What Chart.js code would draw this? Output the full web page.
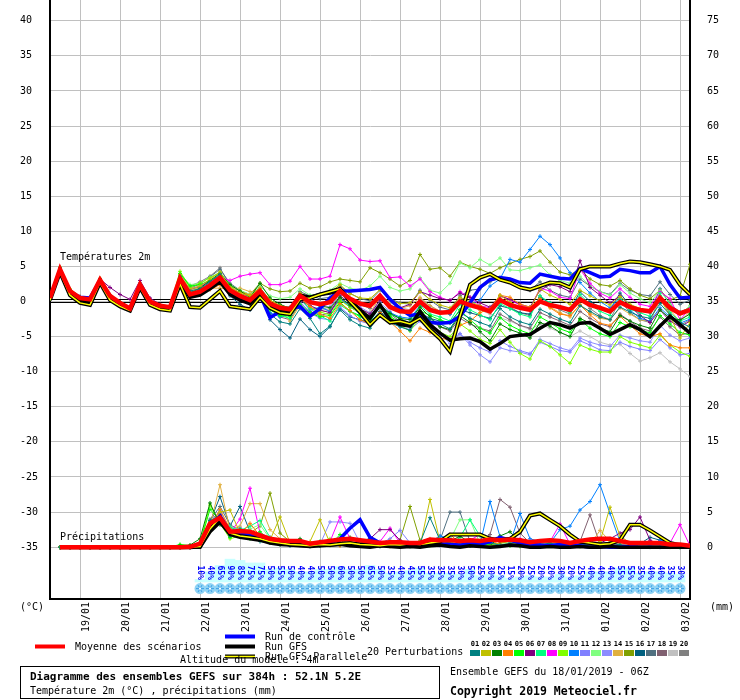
<!DOCTYPE html>
<html>
<head>
<meta charset="utf-8">
<script src="https://cdn.jsdelivr.net/npm/chart.js@4.4.1/dist/chart.umd.min.js"></script>
<style>
  body { margin: 0; background: #fff; }
  canvas { display: block; }
</style>
</head>
<body>
<canvas id="gefs" width="740" height="700"></canvas>
<script>
// forecast hours, every 6h from 18/01 06Z
const hours = [0,6,12,18,24,30,36,42,48,54,60,66,72,78,84,90,96,102,108,114,120,126,132,138,144,150,156,162,168,174,180,186,192,198,204,210,216,222,228,234,240,246,252,258,264,270,276,282,288,294,300,306,312,318,324,330,336,342,348,354,360,366,372,378,384];
const dayTicks = [18,42,66,90,114,138,162,186,210,234,258,282,306,330,354,378];
const dateLabels = ['19/01','20/01','21/01','22/01','23/01','24/01','25/01','26/01','27/01','28/01','29/01','30/01','31/01','01/02','02/02','03/02'];
const tempTicks = [-35,-30,-25,-20,-15,-10,-5,0,5,10,15,20,25,30,35,40];
const rainTicks = [0,5,10,15,20,25,30,35,40,45,50,55,60,65,70,75];

// temperature 2m (°C)
const tempMean = [0.5,4.6,1.5,0.5,0.3,3.1,0.8,-0.2,-1.0,2.4,0.0,-0.6,-0.8, 3.3,1.0,1.4,2.3,3.4,1.6,0.8,0.2,1.5,-0.3,-0.9,-1.1, 0.8,-0.1,-0.4,-0.1,1.5,0.4,-0.3,-0.6,0.8,-0.8,-1.4,-1.5, 0.0,-1.2,-1.6,-1.5,0.0,-0.5,-0.9,-1.4,0.2,-0.5,-0.9,-1.2, 0.0,-0.5,-0.8,-1.2,0.3,-0.5,-0.9,-1.4,-0.1,-0.8,-1.2,-1.4,0.5,-0.9,-1.7,-1.2];
const tempControl = [0.5,4.5,1.4,0.6,0.5,3.0,0.7,-0.3,-1.1,2.3,-0.1,-0.7,-0.9, 3.0,0.9,1.2,2.0,3.1,1.2,0.5,-0.2,1.0,-2.3,-1.4,-1.1, -0.7,-2.1,-1.0,0.5,1.5,1.5,1.6,1.7,2.0,0.3,-1.0,-2.0, -1.8,-3.0,-3.1,-3.0,-2.1,-0.2,2.0,3.1,3.4,3.2,2.7,2.6, 3.9,3.6,3.3,3.2,4.7,4.1,3.5,3.6,4.6,4.4,4.1,4.1,5.0,2.4,0.5,0.6];
const tempGfs = [0.4,4.4,1.2,0.1,-0.2,2.9,0.5,-0.5,-1.2,2.2,-0.2,-0.9,-1.1, 2.9,0.6,0.9,1.8,2.8,1.0,0.2,-0.3,1.2,-0.6,-1.2,-1.3, 0.9,0.6,1.0,1.2,1.6,0.3,-1.2,-2.4,-0.5,-2.6,-3.3,-3.5, -1.4,-3.3,-4.5,-5.5,-5.3,-5.2,-5.7,-6.8,-6.0,-5.0,-4.8,-4.7, -3.8,-3.0,-3.3,-3.8,-3.1,-3.0,-3.8,-4.7,-4.0,-3.3,-4.0,-5.0,-3.5,-2.1,-3.3,-4.5];
const tempPara = [0.2,4.2,0.9,-0.2,-0.5,2.7,0.2,-0.7,-1.3,2.0,-0.5,-1.1,-1.3, 2.5,-0.8,-0.9,0.3,1.5,-0.7,-0.9,-1.1,0.6,-0.9,-1.6,-1.8, 0.3,0.5,1.0,1.4,1.8,0.0,-1.5,-3.3,-1.9,-3.0,-2.8,-3.2, -2.4,-4.0,-5.3,-7.1,-2.1,2.4,3.4,3.9,3.1,2.7,2.0,1.7, 2.2,2.7,2.6,2.0,4.6,5.0,5.0,5.0,5.4,5.7,5.6,5.3,5.0,4.5,2.4,1.0];

const t01 = [0.6,4.8,1.7,0.4,0.2,3.2,0.9,-0.1,-1.1,2.3,-0.1,-0.7,-0.9, 3.6,1.5,1.8,2.8,3.9,1.4,0.2,-0.3,1.1,-1.8,-2.9,-3.2, -1.0,-2.4,-4.6,-3.5,-1.2,-2.6,-3.4,-3.8,-2.0,-3.0,-3.6,-4.1, -1.8,-2.5,-3.2,-3.9,-1.6,-2.4,-3.0,-3.5,-1.0,-2.2,-2.9,-3.3, -1.1,-1.8,-2.5,-3.0,-0.6,-1.4,-2.2,-2.6,-0.8,-1.5,-2.1,-2.4,-0.3,-1.9,-3.0,-3.6];
const t02 = [0.4,4.5,1.4,0.6,0.4,3.0,0.9,-0.2,-0.9,2.5,0.1,-0.5,-0.7, 3.8,1.8,2.2,3.2,4.2,2.0,1.2,0.8,1.8,0.2,-0.6,-0.9, 1.2,0.6,0.9,1.3,2.4,1.1,0.5,0.4,1.7,0.2,-0.3,-0.2, 1.4,0.3,-0.5,-0.9,0.6,0.0,-0.6,-1.2,0.9,-0.1,-0.8,-1.1, 1.8,0.9,0.3,-0.4,1.6,0.8,0.1,-0.5,0.7,-0.4,-1.0,-1.3,0.4,-2.0,-5.2,-3.0];
const t03 = [0.5,4.7,1.6,0.5,0.3,3.2,0.8,-0.3,-1.0,2.4,0.0,-0.6,-0.8, 3.1,1.2,1.9,3.0,4.0,2.4,1.5,0.6,2.6,0.5,-0.4,-1.0, 0.9,0.0,-0.6,-0.9,0.6,-0.5,-1.5,-2.2,-0.4,-1.7,-2.4,-2.6, -0.8,-2.2,-3.6,-4.0,-2.0,-3.0,-4.3,-5.6,-3.2,-4.0,-4.5,-5.2, -3.0,-3.5,-4.4,-5.0,-2.4,-3.1,-3.8,-4.3,-2.0,-2.8,-3.4,-3.8,-1.2,-2.4,-2.6,-1.8];
const t04 = [0.5,4.6,1.5,0.6,0.4,3.1,0.9,-0.1,-0.9,2.4,-0.1,-0.7,-0.9, 3.0,0.8,1.3,1.7,2.4,1.6,1.4,0.9,1.9,0.2,-0.6,-1.2, 0.5,-0.7,-1.8,-2.4,-0.3,-1.3,-2.6,-3.2,-1.6,-2.9,-4.2,-5.6, -3.8,-4.4,-5.2,-5.5,-3.4,-2.8,-1.6,-1.0,0.9,0.6,-0.4,-0.8, 0.4,-0.9,-1.8,-2.0,-0.5,-1.9,-3.1,-3.4,-2.1,-3.4,-4.6,-5.0,-4.6,-6.2,-6.6,-6.6];
const t05 = [0.6,4.7,1.6,0.5,0.3,3.2,0.7,-0.3,-1.1,2.3,-0.1,-0.7,-0.9, 4.0,2.2,2.4,3.0,3.6,1.5,0.6,-0.2,0.8,-1.2,-2.0,-2.1, -0.4,-1.6,-2.2,-2.0,-0.1,-1.4,-2.0,-2.6,-0.8,-2.1,-3.0,-3.4, -1.3,-2.0,-2.6,-3.1,-1.2,-2.6,-3.8,-4.5,-2.3,-3.4,-4.1,-4.6, -2.2,-3.0,-3.9,-4.4,-2.6,-3.8,-4.6,-5.0,-3.0,-3.6,-4.0,-4.5,-2.0,-3.2,-4.4,-4.8];
const t06 = [0.5,4.6,1.6,0.7,0.5,3.2,2.0,1.0,0.3,3.0,0.5,-0.4,-0.9, 2.8,0.9,1.2,2.0,3.0,1.2,0.4,-0.3,1.2,-0.8,-1.5,-1.8, 0.2,-0.6,-1.2,-1.6,0.8,-0.2,-1.0,-1.8,0.2,-0.6,-0.9,-0.4, 1.4,0.9,0.4,0.2,1.2,0.6,-0.2,-0.8,0.8,0.3,-0.4,-0.8, 1.6,2.4,2.1,1.4,5.8,2.0,0.9,-0.2,0.8,-0.6,-2.0,-3.0,-1.2,-2.8,-3.6,-2.8];
const t07 = [0.4,4.6,1.5,0.5,0.2,3.0,0.8,-0.2,-1.0,2.4,0.0,-0.6,-0.8, 3.5,1.3,1.5,2.5,3.6,1.8,0.5,0.0,1.6,-0.9,-2.0,-2.4, 0.3,-1.0,-2.0,-2.8,-0.5,-1.4,-2.2,-2.9,-0.7,-1.8,-2.4,-3.1, -0.6,-1.8,-2.2,-2.8,-0.4,-1.2,-1.9,-2.6,-0.3,-1.0,-1.8,-2.2, 0.8,-0.2,-0.8,-1.6,1.0,-0.4,-1.4,-2.0,0.6,-1.1,-1.6,-2.1,1.2,-1.6,-2.8,-2.2];
const t08 = [0.5,4.6,1.5,0.5,0.3,3.1,0.8,-0.2,-1.0,2.4,0.0,-0.6,-0.8, 3.4,1.8,2.2,2.9,3.5,3.0,3.6,3.9,4.1,2.4,2.4,2.9, 5.0,3.2,3.2,3.6,8.1,7.5,5.9,5.7,5.8,3.4,3.5,2.2, 3.2,1.4,0.6,0.1,1.4,0.6,-0.6,-0.9,0.8,0.2,-0.5,-1.0, 1.9,1.5,0.6,0.4,4.6,2.6,1.2,0.5,1.8,0.6,-0.4,-0.7,1.4,0.4,-2.6,-1.0];
const t09 = [0.6,4.9,1.8,0.7,0.4,3.3,0.9,-0.1,-0.9,2.6,0.2,-0.5,-0.6, 4.3,2.0,2.6,3.4,4.1,2.2,1.0,0.3,1.7,-0.4,-1.2,-1.6, 0.5,-0.8,-1.5,-1.9,0.2,-0.8,-1.6,-2.4,-0.9,-2.2,-3.4,-4.2, -2.4,-3.6,-4.4,-5.0,-3.2,-4.2,-5.4,-6.0,-4.0,-5.8,-7.4,-8.2, -5.6,-6.4,-7.6,-8.8,-6.2,-6.8,-7.2,-7.2,-5.0,-5.8,-6.2,-6.6,-4.8,-6.2,-7.2,-7.8];
const t10 = [0.5,4.5,1.4,0.4,0.2,3.0,0.7,-0.3,-1.1,2.3,-0.1,-0.7,-0.9, 3.2,1.1,1.6,2.6,3.2,1.5,0.7,0.0,1.0,-1.6,-2.2,-1.8, 0.4,-1.2,-0.8,-1.4,0.4,-0.6,-1.8,-2.0,-0.6,-1.6,-2.2,-2.4, -0.6,-1.0,-1.4,-1.8,-0.2,-0.4,0.2,2.2,3.2,6.0,5.6,7.4, 9.3,8.1,6.2,4.1,2.7,1.2,0.0,-0.9,0.6,-1.2,-2.4,-2.8,-0.9,-2.2,-3.1,-2.5];
const t11 = [0.5,4.6,1.5,0.5,0.2,3.0,0.8,-0.2,-1.0,2.4,0.0,-0.6,-0.8, 3.3,1.3,1.7,2.8,3.8,2.0,1.0,0.4,1.4,-0.6,-1.6,-2.0, 0.0,-1.6,-2.4,-2.6,-0.8,-2.0,-2.8,-3.2,-1.8,-2.8,-3.6,-4.0, -2.8,-4.0,-4.8,-5.4,-4.6,-5.8,-6.6,-7.2,-5.6,-6.4,-7.0,-7.4, -5.8,-6.4,-7.0,-7.2,-5.6,-6.2,-6.9,-7.0,-5.8,-6.4,-6.8,-7.0,-5.4,-6.6,-7.6,-7.4];
const t12 = [0.6,4.7,1.6,0.5,0.3,3.2,0.9,-0.1,-0.9,2.5,0.1,-0.5,-0.7, 4.0,2.4,2.6,3.4,4.2,2.4,1.6,1.0,2.2,0.8,0.4,0.6, 1.8,0.9,1.0,1.6,2.6,1.9,1.6,2.2,3.6,2.0,1.5,1.8, 3.4,1.6,1.2,2.6,5.5,4.8,6.0,5.2,6.2,4.5,4.4,4.8, 5.2,3.8,3.0,2.6,3.6,2.2,1.4,0.9,2.4,1.2,0.4,-0.2,1.6,-0.4,-1.8,-0.6];
const t13 = [0.5,4.6,1.5,0.5,0.2,3.1,0.7,-0.3,-1.1,2.3,-0.1,-0.7,-0.9, 3.0,0.9,1.4,2.4,3.2,1.6,0.8,0.2,1.8,-0.4,-1.0,-1.4, 1.0,0.4,-0.4,-0.8,1.2,0.2,-0.8,-1.6,-0.2,-1.4,-2.6,-3.6, -2.0,-3.4,-4.6,-6.0,-4.6,-6.2,-7.6,-8.6,-6.6,-7.0,-7.2,-7.6, -5.4,-6.0,-6.6,-7.0,-5.2,-5.8,-6.2,-6.4,-4.8,-5.2,-5.6,-5.8,-3.4,-4.8,-5.6,-5.2];
const t14 = [0.4,4.5,1.4,0.4,0.2,3.0,0.8,-0.2,-1.0,2.3,-0.1,-0.7,-0.9, 3.1,1.4,2.0,1.9,1.9,1.8,1.9,1.4,1.6,-0.2,-1.2,-2.8, -0.5,-2.2,-1.6,-1.2,0.4,-0.5,-1.2,-1.6,0.6,-0.5,-1.0,-0.6, 0.6,-0.6,-1.4,-1.8,0.2,-0.6,-1.2,-1.6,0.4,-0.2,-0.9,-1.2, 0.2,-0.8,-1.6,-2.2,-0.4,-1.6,-2.4,-2.6,-0.9,-1.8,-2.6,-2.8,0.2,-1.2,-2.9,-1.4];
const t15 = [0.5,4.6,1.5,0.5,0.3,3.1,0.8,-0.2,-1.0,2.4,0.0,-0.6,-0.8, 3.6,1.7,2.1,2.9,3.7,2.2,1.5,1.0,2.6,1.8,1.4,1.5, 2.6,1.9,2.1,2.8,3.2,3.0,2.8,4.8,4.1,3.2,2.2,3.0, 6.7,4.6,4.8,3.6,5.6,5.0,4.6,4.0,4.8,5.4,6.0,6.4, 7.2,5.6,4.2,3.8,4.6,3.2,2.4,2.2,3.0,1.8,0.9,0.4,1.6,0.2,0.8,5.3];
const t16 = [0.6,4.8,1.6,0.4,0.2,3.1,0.8,-0.2,-1.0,2.4,0.0,-0.7,-0.9, 3.0,0.9,1.4,2.2,3.2,0.8,-0.4,-1.2,1.0,-2.6,-4.0,-5.2, -2.5,-4.0,-5.0,-3.6,-1.0,-2.2,-2.6,-3.0,-1.4,-2.6,-3.4,-3.6, -1.6,-2.4,-2.8,-3.0,-1.2,-1.6,-2.0,-2.4,-0.6,-1.0,-1.6,-1.8, 0.6,-0.2,-0.8,-1.2,1.4,0.0,-0.8,-1.2,1.2,-0.6,-1.2,-1.6,1.8,-0.4,-1.5,-0.9];
const t17 = [0.5,4.7,1.4,0.4,0.2,3.0,0.7,-0.3,-1.1,2.3,-0.1,-0.7,-0.9, 3.5,1.9,2.5,3.5,4.6,2.6,1.6,0.8,2.0,0.2,-0.6,-0.8, 1.4,0.8,0.4,0.6,2.2,1.2,0.4,0.1,1.6,0.4,-0.2,-0.4, 1.6,0.2,-0.8,-1.2,0.8,1.6,1.8,2.8,3.4,2.8,2.2,1.6, 2.8,1.6,0.9,0.6,3.2,2.2,1.4,1.0,2.6,1.6,1.0,0.8,2.8,1.0,-0.4,0.2];
const t18 = [0.4,4.5,1.4,0.5,0.3,3.0,0.8,-0.2,-1.0,2.4,0.0,-0.6,-0.8, 3.2,1.0,1.5,2.6,3.8,1.6,0.6,0.0,1.4,-1.0,-2.2,-2.6, -0.2,-1.4,-2.0,-1.6,0.4,-0.8,-1.6,-2.4,-0.8,-1.8,-2.8,-3.4, -1.6,-2.8,-3.6,-4.2,-2.4,-3.2,-3.8,-4.2,-1.8,-2.6,-3.4,-3.8, -1.6,-2.2,-2.8,-3.4,-1.4,-2.4,-3.2,-3.6,-1.8,-2.8,-3.8,-4.2,-2.2,-3.6,-4.8,-4.4];
const t19 = [0.5,4.6,1.5,0.5,0.3,3.1,0.8,-0.2,-1.0,2.4,0.0,-0.6,-0.8, 3.4,1.6,2.0,2.9,4.2,2.0,1.0,0.2,1.2,-0.5,-1.0,-1.4, 0.6,-0.6,-1.2,-1.0,1.0,0.2,-0.4,-0.6,1.0,-0.2,-0.8,-1.2, 0.4,-0.8,-1.4,-1.6,0.0,-0.6,-1.2,-1.8,-2.3,-2.8,-3.4,-4.0, -3.2,-3.8,-4.4,-5.0,-4.2,-5.0,-5.8,-6.2,-6.1,-7.4,-8.5,-8.0,-7.3,-8.6,-9.6,-10.7];
const t20 = [0.6,4.8,1.6,0.6,0.4,3.2,0.9,-0.1,-0.9,2.5,0.1,-0.5,-0.7, 3.8,2.2,2.8,3.6,4.8,2.2,1.2,0.6,1.8,-0.2,-0.9,-1.2, 1.2,0.2,-0.6,-1.4,1.4,0.4,-0.4,-1.0,0.9,-0.6,-1.4,-1.8, 0.4,-0.6,-1.4,-1.8,0.6,-0.4,-1.2,-1.6,0.5,-0.8,-1.6,-2.0, 0.8,-0.4,-1.2,-1.8,0.6,-1.0,-2.0,-2.6,0.2,-1.6,-2.6,-3.0,0.8,-1.8,-3.4,-2.6];

// precipitation per 6h (mm)
const rainMean = [null,0,0,0,0,0,0,0,0,0,0,0,0, 0.0,0.05,0.5,3.4, 4.2,2.2,2.3,2.2, 1.7,1.2,1.0,0.9, 0.9,0.5,0.7,0.9, 1.1,1.2,1.0,0.8, 0.6,0.7,0.7,0.6, 0.6,1.1,1.0,1.0, 0.9,1.0,0.9,1.1, 1.0,1.1,1.0,0.7, 0.9,1.0,0.9,0.6, 0.9,1.1,1.2,1.2, 0.9,0.6,0.6,0.6, 0.6,0.4,0.4,0.2];
const rainControl = [null,0,0,0,0,0,0,0,0,0,0,0,0, 0,0,0.1,3.0, 4.4,2.2,2.0,1.8, 1.4,0.9,0.6,0.4, 0.5,0.3,0.6,0.6, 1.2,2.7,3.9,1.4, 0.6,0.4,0.3,0.5, 0.2,0.3,0.5,0.4, 0.3,0.6,0.4,0.8, 1.4,1.0,0.6,0.4, 0.3,0.2,0.4,0.3, 0.2,0.0,0.1,0.0, 0.0,0.1,0.0,0.0, 0.0,0.0,0.0,0.0];
const rainGfs = [null,0,0,0,0,0,0,0,0,0,0,0,0, 0,0,0.0,2.2, 3.6,1.8,1.4,1.2, 1.0,0.6,0.4,0.3, 0.2,0.1,0.2,0.3, 0.4,0.2,0.1,0.0, 0.2,0.1,0.0,0.1, 0.0,0.2,0.3,0.1, 0.0,0.2,0.1,0.0, 0.1,0.3,0.2,0.0, 0.0,0.1,0.0,0.0, 0.1,0.0,0.0,0.1, 0.0,0.0,0.0,0.0, 0.0,0.0,0.0,0.0];
const rainPara = [null,0,0,0,0,0,0,0,0,0,0,0,0, 0,0,0.1,2.6, 4.2,2.0,1.6,1.4, 1.2,0.8,0.6,0.4, 0.3,0.2,0.4,0.3, 0.5,0.6,0.4,0.3, 0.2,0.4,0.3,0.5, 0.4,0.6,0.8,1.8, 1.8,1.8,1.8,1.2, 1.0,1.2,2.2,4.5, 4.8,3.9,3.0,1.8, 0.8,0.6,0.4,0.5, 1.0,3.2,3.2,2.4, 1.5,0.6,0.3,0.1];

const r01 = [null,0,0,0,0,0,0,0,0,0,0,0,0, 0,0,0.2,3.8, 4.5,1.6,2.2,1.4, 0.8,0.6,0.4,0.2, 0.3,0.1,0.2,0.5, 1.0,0.6,0.3,0.2, 0.1,0.4,0.3,0.2, 0.6,4.2,1.0,0.5, 0.3,0.2,0.4,0.6, 0.3,0.5,0.8,0.2, 0.3,0.6,0.2,0.1, 0.3,0.5,0.4,0.6, 0.3,0.2,0.1,0.2, 0.0,0.1,0.0,0.1];
const r02 = [null,0,0,0,0,0,0,0,0,0,0,0,0, 0,0,0.0,2.4, 5.0,5.3,2.0,1.6, 1.2,1.0,4.3,0.6, 0.6,0.8,3.9,0.6, 0.3,0.8,0.4,0.2, 0.3,0.1,0.2,0.3, 0.1,6.8,0.8,0.4, 0.6,0.5,0.3,0.2, 0.6,0.8,0.4,0.3, 0.5,0.8,0.6,0.2, 0.4,0.3,0.8,5.7, 1.6,0.6,0.3,0.2, 0.3,0.1,0.2,0.0];
const r03 = [null,0,0,0,0,0,0,0,0,0,0,0,0, 0.2,0.3,1.2,6.3, 3.2,2.0,2.4,1.8, 1.0,0.8,0.6,0.4, 1.2,0.3,0.2,0.4, 0.6,1.4,0.8,0.3, 0.2,0.4,0.3,0.2, 0.1,0.6,0.3,0.8, 1.6,0.6,0.4,0.2, 1.6,2.2,0.6,0.4, 0.3,0.2,0.5,0.3, 0.2,0.6,0.4,0.3, 0.2,0.1,0.3,0.2, 0.1,0.2,0.1,0.0];
const r04 = [null,0,0,0,0,0,0,0,0,0,0,0,0, 0,0,0.3,2.8, 5.4,2.6,1.8,3.4, 1.6,1.2,0.8,0.5, 0.4,0.3,0.6,0.3, 0.2,0.5,0.4,0.6, 0.3,0.9,0.4,0.2, 0.3,0.5,0.8,1.8, 0.6,0.4,0.3,0.9, 0.4,0.3,0.2,0.4, 0.6,0.3,0.2,0.4, 0.3,0.2,0.5,0.3, 0.8,0.4,0.2,0.3, 0.2,0.1,0.1,0.0];
const r05 = [null,0,0,0,0,0,0,0,0,0,0,0,0, 0.4,0.2,0.5,5.4, 3.8,1.4,2.6,1.2, 2.2,1.0,0.4,0.6, 0.4,0.2,0.8,0.3, 1.8,0.6,0.3,0.4, 0.2,0.6,0.2,0.1, 0.2,0.3,0.4,0.2, 0.6,0.3,0.2,0.4, 0.3,0.2,0.1,0.3, 0.5,0.2,0.1,0.3, 0.2,0.4,0.2,0.1, 0.3,0.2,0.1,0.0, 0.2,0.1,0.0,0.0];
const r06 = [null,0,0,0,0,0,0,0,0,0,0,0,0, 0,0,0.1,3.0, 4.6,2.4,1.6,1.8, 1.2,0.8,0.5,0.3, 0.4,0.2,0.3,0.5, 0.4,0.3,0.6,1.2, 2.5,2.5,1.0,0.4, 0.3,0.5,0.4,0.3, 0.2,0.6,0.3,0.2, 0.4,0.3,0.5,0.2, 0.3,0.4,0.2,0.3, 0.5,0.4,0.6,1.2, 2.0,2.5,4.3,1.0, 0.4,0.3,0.1,0.0];
const r07 = [null,0,0,0,0,0,0,0,0,0,0,0,0, 0,0.1,0.4,3.6, 4.0,2.8,2.4,3.0, 3.8,1.4,0.8,0.6, 0.5,0.4,0.8,0.6, 0.3,0.5,0.4,1.4, 0.3,0.2,0.4,0.3, 0.2,0.8,0.6,0.4, 1.4,3.9,1.6,0.8, 0.3,0.4,0.2,0.6, 0.3,0.2,0.4,0.3, 0.2,0.5,0.3,0.2, 0.1,0.3,0.2,0.1, 0.2,0.1,0.0,0.1];
const r08 = [null,0,0,0,0,0,0,0,0,0,0,0,0, 0,0,0.2,2.6, 4.4,2.0,4.0,8.4, 2.0,1.4,0.8,0.6, 0.5,0.4,0.3,0.8, 4.3,1.2,0.6,0.4, 0.8,2.7,0.6,0.3, 0.2,0.4,0.6,0.5, 0.3,1.0,1.8,0.6, 0.3,0.4,1.2,0.8, 0.6,0.8,3.3,0.4, 0.3,0.5,0.2,0.3, 0.4,0.2,0.3,0.5, 0.4,0.6,3.2,0.2];
const r09 = [null,0,0,0,0,0,0,0,0,0,0,0,0, 0.3,0.2,0.6,6.0, 3.4,1.2,1.6,1.4, 1.0,0.6,0.8,0.4, 0.3,0.2,0.4,1.2, 0.6,0.4,0.3,0.2, 0.4,0.3,0.2,0.6, 0.3,0.2,0.4,0.6, 0.3,0.2,0.5,0.3, 0.2,0.4,0.6,0.2, 0.3,0.2,0.4,0.2, 0.1,0.3,0.2,0.5, 0.3,0.2,0.3,0.2, 0.1,0.0,0.3,0.2];
const r10 = [null,0,0,0,0,0,0,0,0,0,0,0,0, 0,0,0.1,2.4, 4.2,2.8,2.0,1.6, 1.2,0.8,0.5,0.4, 0.3,0.2,0.4,0.3, 0.6,0.4,0.3,0.5, 0.2,0.3,0.4,0.2, 0.3,0.5,1.6,1.2, 0.8,0.6,0.4,6.5, 1.5,0.6,4.8,1.2, 0.8,0.6,2.5,3.0, 5.3,6.5,8.9,4.8, 0.8,0.4,0.3,0.2, 1.0,0.6,0.3,0.1];
const r11 = [null,0,0,0,0,0,0,0,0,0,0,0,0, 0,0,0.2,2.8, 3.6,2.2,2.0,1.8, 1.4,1.0,0.6,0.4, 0.3,0.2,0.5,0.4, 0.3,0.6,0.4,0.3, 0.5,1.2,2.4,0.6, 0.3,0.4,0.6,0.3, 0.2,0.4,0.3,0.2, 0.4,0.3,0.2,0.5, 0.3,0.4,0.3,0.2, 0.6,0.3,0.2,0.4, 0.3,0.2,0.3,0.2, 0.1,0.2,0.1,0.0];
const r12 = [null,0,0,0,0,0,0,0,0,0,0,0,0, 0,0.1,0.3,3.2, 3.8,3.0,2.2,2.6, 3.2,1.2,0.8,0.6, 0.5,0.3,0.4,0.3, 0.6,0.4,0.3,0.8, 0.4,0.3,0.2,0.4, 0.3,0.5,0.6,1.0, 3.9,3.9,0.5,0.3, 0.4,0.6,0.3,0.4, 0.2,0.5,0.3,0.2, 0.4,0.6,0.3,0.2, 0.3,0.4,0.2,0.1, 0.2,0.1,0.0,0.1];
const r13 = [null,0,0,0,0,0,0,0,0,0,0,0,0, 0,0,0.1,3.4, 5.2,2.4,2.8,2.0, 1.6,1.0,0.6,0.4, 0.3,0.5,0.4,3.6, 3.6,3.4,0.6,0.3, 0.2,0.4,0.3,0.2, 0.3,0.4,0.2,0.3, 0.5,0.3,0.2,0.4, 0.3,0.6,0.4,0.2, 0.3,0.5,0.4,0.3, 0.2,0.4,0.6,0.3, 0.2,0.3,0.4,0.2, 0.3,0.1,0.2,0.0];
const r14 = [null,0,0,0,0,0,0,0,0,0,0,0,0, 0,0,0.2,3.0, 8.9,2.4,3.0,6.2, 6.2,2.5,1.2,0.8, 0.6,0.4,0.3,0.5, 0.4,0.6,0.3,0.8, 0.4,0.3,0.2,0.5, 0.3,1.2,0.8,0.6, 0.4,0.3,0.5,0.8, 0.4,0.3,0.6,0.4, 0.3,0.5,0.8,0.6, 0.4,0.3,2.4,0.8, 0.6,0.4,0.3,0.6, 0.4,0.2,0.3,0.1];
const r15 = [null,0,0,0,0,0,0,0,0,0,0,0,0, 0,0,0.1,2.2, 4.0,1.8,2.2,2.0, 3.0,7.7,2.0,0.8, 0.6,0.4,0.3,0.5, 0.4,0.3,0.6,0.4, 0.3,0.4,1.0,5.8, 1.0,0.6,0.3,0.4, 0.2,0.5,0.3,0.2, 0.4,0.3,0.6,0.3, 0.2,0.4,0.3,0.2, 0.5,0.3,0.4,0.2, 0.3,0.2,0.4,0.2, 0.1,0.2,0.1,0.0];
const r16 = [null,0,0,0,0,0,0,0,0,0,0,0,0, 0,0,0.2,3.6, 7.2,3.0,5.8,2.2, 1.6,1.0,0.7,0.5, 0.4,0.3,0.6,0.4, 0.3,0.5,0.4,0.3, 0.6,0.4,0.3,0.4, 0.3,0.5,0.4,0.6, 0.3,0.4,0.5,0.3, 0.4,0.3,0.2,0.4, 0.3,0.5,0.4,0.3, 0.2,0.4,0.3,0.2, 0.4,0.3,0.5,1.4, 1.0,0.6,0.3,0.1];
const r17 = [null,0,0,0,0,0,0,0,0,0,0,0,0, 0,0,0.1,3.8, 5.8,3.2,2.4,2.0, 1.6,1.2,0.9,0.6, 0.5,0.3,0.4,0.6, 0.4,0.8,0.5,0.3, 0.4,0.6,0.3,0.4, 0.5,0.6,1.0,5.0, 5.0,0.8,0.6,0.4, 0.3,0.5,0.8,0.6, 0.4,0.3,0.5,0.4, 0.3,0.5,0.4,0.3, 0.4,0.3,0.5,0.3, 0.2,0.3,0.1,0.0];
const r18 = [null,0,0,0,0,0,0,0,0,0,0,0,0, 0,0,0.1,2.6, 4.6,2.2,1.8,1.6, 1.2,0.8,0.6,0.4, 0.3,0.5,0.4,0.3, 0.6,0.5,0.4,0.3, 0.5,0.4,0.3,0.5, 0.4,0.3,0.6,0.4, 0.5,0.6,0.8,1.8, 6.8,5.7,2.0,0.6, 0.4,0.3,0.6,0.4, 0.8,4.6,0.4,0.3, 0.5,0.4,0.3,0.5, 0.4,0.2,0.3,0.1];
const r19 = [null,0,0,0,0,0,0,0,0,0,0,0,0, 0,0,0.1,3.2, 4.4,2.0,2.2,1.8, 1.4,1.0,0.8,0.6, 0.5,0.4,0.3,0.5, 0.4,0.3,0.4,0.5, 0.3,0.4,0.3,0.2, 0.4,0.3,0.5,0.4, 0.3,0.6,0.4,0.3, 0.5,0.4,0.3,0.2, 0.4,0.3,0.2,0.4, 0.3,0.2,0.4,0.3, 0.2,0.3,0.2,0.3, 0.2,0.1,0.2,0.0];
const r20 = [null,0,0,0,0,0,0,0,0,0,0,0,0, 0,0,0.2,4.0, 4.8,2.6,2.0,2.4, 1.6,1.2,0.8,0.5, 0.4,0.3,0.5,0.4, 0.6,0.5,0.4,0.3, 0.6,0.4,0.3,0.5, 0.4,0.8,1.6,0.6, 0.4,0.5,0.3,1.4, 0.8,0.5,0.6,0.4, 0.3,0.5,0.4,0.3, 0.6,0.4,0.3,0.5, 0.4,0.3,0.2,0.4, 0.3,0.2,0.1,0.0];

// probability of precipitation (%) per step
const rainProb = [null,null,null,null,null,null,null,null,null,null,null,null,null,null,null, 10,40,65,90,85,75,75,50,55,50,40,40,50,50,60,50,50,65,50,35,40,45,55,35,35, 35,30,50,25,30,25,15,20,25,20,20,30,20,25,40,40,40,55,55,35,40,40,35,30, null];

const pertColors = ['#008080','#c0c000','#008000','#ff8000','#00ff00','#800080','#00ff80','#ff00ff','#80ff00','#0080ff',
                    '#8080ff','#80ff80','#8c8cff','#e0b040','#80a000','#006080','#507080','#806070','#c0c0c0','#808080'];
const tempPert = [t01,t02,t03,t04,t05,t06,t07,t08,t09,t10,t11,t12,t13,t14,t15,t16,t17,t18,t19,t20];
const rainPert = [r01,r02,r03,r04,r05,r06,r07,r08,r09,r10,r11,r12,r13,r14,r15,r16,r17,r18,r19,r20];

const mono = 'DejaVu Sans Mono';
Chart.defaults.font.family = mono;
Chart.defaults.color = '#000';

function pts(values) {
  return hours.map((h, i) => ({ x: h, y: values[i] }));
}

function member(values, color, axis) {
  return {
    type: 'line', data: pts(values), yAxisID: axis, order: 50,
    borderColor: color, borderWidth: 1,
    pointStyle: 'cross', pointRadius: 2, pointBorderWidth: 1,
    pointBorderColor: color, pointBackgroundColor: color
  };
}

function thick(values, color, width, axis, order) {
  return {
    type: 'line', data: pts(values), yAxisID: axis, order: order,
    borderColor: color, borderWidth: width, pointRadius: 0
  };
}

const datasets = [];
datasets.push({
  type: 'bar', data: pts(rainProb), yAxisID: 'yPct', order: 100,
  backgroundColor: '#c8ffff', barThickness: 10, grouped: false
});
tempPert.forEach((arr, k) => datasets.push(member(arr, pertColors[k], 'y')));
rainPert.forEach((arr, k) => datasets.push(member(arr, pertColors[k], 'y2')));
datasets.push(thick(tempControl, '#0000ff', 3.5, 'y', 4));
datasets.push(thick(rainControl, '#0000ff', 3.5, 'y2', 4));
datasets.push(thick(tempGfs, '#000000', 3.5, 'y', 3));
datasets.push(thick(rainGfs, '#000000', 3.5, 'y2', 3));
datasets.push(thick(tempPara, '#000000', 4, 'y', 2));
datasets.push(thick(tempPara, '#ffff00', 1.5, 'y', 1));
datasets.push(thick(rainPara, '#000000', 4, 'y2', 2));
datasets.push(thick(rainPara, '#ffff00', 1.5, 'y2', 1));
datasets.push(thick(tempMean, '#ff0000', 4.5, 'y', 0));
datasets.push(thick(rainMean, '#ff0000', 4.5, 'y2', 0));

function flake(ctx, x, y) {
  ctx.fillStyle = '#8fd3f5';
  ctx.beginPath();
  ctx.arc(x, y, 5.5, 0, Math.PI * 2);
  ctx.fill();
  ctx.strokeStyle = '#3c9fe6';
  ctx.lineWidth = 1;
  for (let a = 0; a < 3; a++) {
    const ang = a * Math.PI / 3;
    ctx.beginPath();
    ctx.moveTo(x - 4 * Math.cos(ang), y - 4 * Math.sin(ang));
    ctx.lineTo(x + 4 * Math.cos(ang), y + 4 * Math.sin(ang));
    ctx.stroke();
  }
  ctx.fillStyle = '#ffffff';
  ctx.fillRect(x - 1, y - 1, 2, 2);
}

function line(ctx, x1, y, x2, color, w) {
  ctx.strokeStyle = color;
  ctx.lineWidth = w;
  ctx.beginPath();
  ctx.moveTo(x1, y);
  ctx.lineTo(x2, y);
  ctx.stroke();
}

const zeroLine = {
  id: 'zeroLine',
  beforeDatasetsDraw(chart) {
    const { ctx, chartArea, scales } = chart;
    ctx.save();
    [0, 0.4].forEach(v => {
      const y = Math.round(scales.y.getPixelForValue(v)) + 0.5;
      line(ctx, chartArea.left, y, chartArea.right, '#000', 1);
    });
    ctx.restore();
  }
};

const snowRow = {
  id: 'snowRow',
  afterDatasetsDraw(chart) {
    const { ctx, scales } = chart;
    ctx.save();
    const top = scales.y.getPixelForValue(-37.6);
    const yFlake = scales.y.getPixelForValue(-40.9);
    rainProb.forEach((p, i) => {
      if (p === null) return;
      const x = scales.x.getPixelForValue(hours[i]);
      flake(ctx, x, yFlake);
      ctx.save();
      ctx.translate(x, top);
      ctx.rotate(Math.PI / 2);
      ctx.fillStyle = '#0000ff';
      ctx.font = 'bold 8px ' + mono;
      ctx.textAlign = 'left';
      ctx.textBaseline = 'middle';
      ctx.fillText(p + '%', 0, 0);
      ctx.restore();
    });
    ctx.restore();
  }
};

const texts = {
  id: 'texts',
  afterDraw(chart) {
    const ctx = chart.ctx;
    ctx.save();
    ctx.fillStyle = '#000';
    ctx.textBaseline = 'middle';
    ctx.textAlign = 'left';
    ctx.font = '10px ' + mono;
    ctx.fillText('Températures 2m', 60, 257);
    ctx.fillText('Précipitations', 60, 537);
    ctx.fillText('(°C)', 20, 607);
    ctx.fillText('(mm)', 710, 607);

    // legend
    line(ctx, 35, 646.5, 65, '#ff0000', 4);
    ctx.fillText('Moyenne des scénarios', 75, 647);
    line(ctx, 225, 636.5, 255, '#0000ff', 4);
    ctx.fillText('Run de contrôle', 265, 637);
    line(ctx, 225, 646.5, 255, '#000000', 4);
    ctx.fillText('Run GFS', 265, 647);
    line(ctx, 225, 656.5, 255, '#000000', 4);
    line(ctx, 225, 656.5, 255, '#ffff00', 1.5);
    ctx.fillText('Run GFS Parallele', 265, 657);
    ctx.fillText('Altitude du modele : 4m', 180, 660);
    ctx.fillText('20 Perturbations', 367, 652);

    pertColors.forEach((c, k) => {
      const x = 470 + k * 11;
      ctx.fillStyle = c;
      ctx.fillRect(x, 650, 10, 6);
      ctx.fillStyle = '#000';
      ctx.font = 'bold 7px ' + mono;
      ctx.textAlign = 'center';
      ctx.fillText(String(k + 1).padStart(2, '0'), x + 5, 644);
    });

    ctx.textAlign = 'left';
    ctx.strokeStyle = '#000';
    ctx.lineWidth = 1;
    ctx.strokeRect(20.5, 666.5, 419, 32);
    ctx.font = 'bold 11px ' + mono;
    ctx.fillText('Diagramme des ensembles GEFS sur 384h : 52.1N 5.2E', 30, 677);
    ctx.font = '10px ' + mono;
    ctx.fillText('Température 2m (°C) , précipitations (mm)', 30, 691);
    ctx.fillText('Ensemble GEFS du 18/01/2019 - 06Z', 450, 672);
    ctx.font = 'bold 11.5px ' + mono;
    ctx.fillText('Copyright 2019 Meteociel.fr', 450, 692);
    ctx.restore();
  }
};

new Chart(document.getElementById('gefs'), {
  type: 'line',
  data: { datasets: datasets },
  options: {
    responsive: false,
    animation: false,
    devicePixelRatio: 1,
    layout: { autoPadding: false, padding: { left: 20, right: 0, top: 0, bottom: 0 } },
    elements: { line: { tension: 0 } },
    plugins: { legend: { display: false }, tooltip: { enabled: false } },
    scales: {
      x: {
        type: 'linear', min: 0, max: 384, bounds: 'data', offset: false,
        afterBuildTicks: s => { s.ticks = dayTicks.map(v => ({ value: v })); },
        afterFit: s => { s.height = 101; s.paddingLeft = 0; s.paddingRight = 0; },
        grid: { color: '#c0c0c0', drawTicks: false, offset: false },
        border: { color: '#000', width: 2 },
        ticks: {
          autoSkip: false, minRotation: 90, maxRotation: 90, padding: 3, labelOffset: 6,
          font: { size: 10 },
          callback: (v, i) => dateLabels[i]
        }
      },
      y: {
        position: 'left', min: -42.38, max: 42.95, bounds: 'data',
        afterBuildTicks: s => { s.ticks = tempTicks.map(v => ({ value: v })); },
        afterFit: s => { s.width = 30; s.paddingTop = 0; s.paddingBottom = 0; },
        grid: { color: '#c0c0c0', drawTicks: false },
        border: { color: '#000', width: 2 },
        ticks: { crossAlign: 'far', font: { size: 10 }, callback: v => String(v) }
      },
      y2: {
        position: 'right', min: -7.38, max: 77.95, bounds: 'data',
        afterBuildTicks: s => { s.ticks = rainTicks.map(v => ({ value: v })); },
        afterFit: s => { s.width = 50; s.paddingTop = 0; s.paddingBottom = 0; },
        grid: { display: false, drawTicks: false },
        border: { color: '#000', width: 2 },
        ticks: { crossAlign: 'near', padding: 17, font: { size: 10 }, callback: v => String(v) }
      },
      yPct: { display: false, min: -66.9, max: 2291 }
    }
  },
  plugins: [zeroLine, snowRow, texts]
});
</script>
</body>
</html>
